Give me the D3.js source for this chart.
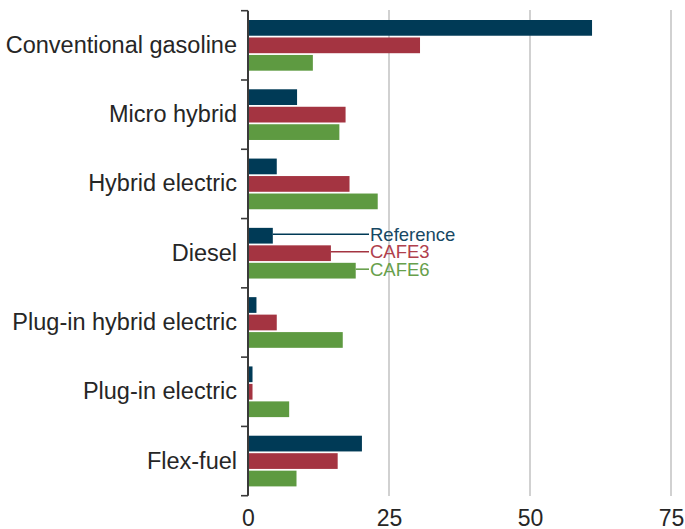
<!DOCTYPE html>
<html>
<head>
<meta charset="utf-8">
<script src="https://cdn.jsdelivr.net/npm/d3@7"></script>
<style>
body { margin: 0; background: #fff; }
svg text { font-family: "Liberation Sans", Arial, sans-serif; }
</style>
</head>
<body>
<svg width="685" height="529"></svg>
<script>
// vehicle types, top to bottom
var categories = ['Conventional gasoline', 'Micro hybrid', 'Hybrid electric', 'Diesel',
  'Plug-in hybrid electric', 'Plug-in electric', 'Flex-fuel']
var seriesNames = ['Reference', 'CAFE3', 'CAFE6']
var reference = [61.0, 8.7, 5.1, 4.4, 1.5, 0.8, 20.2]
var cafe3 = [30.5, 17.3, 18.0, 14.7, 5.1, 0.8, 15.9]
var cafe6 = [11.5, 16.2, 23.0, 19.1, 16.8, 7.3, 8.6]
var xTicks = [0, 25, 50, 75]
var colors = ['#003a56', '#a43441', '#5e9a41']
var labelColors = ['#174863', '#b0404c', '#67a04b']

var series = [reference, cafe3, cafe6]
var svg = d3.select('svg')

var x = d3.scaleLinear().domain([0, 75]).range([248, 671])
var y = d3.scaleBand().domain(categories).range([10.7, 495.7]).padding(0)
var yInner = d3.scaleBand().domain(seriesNames)
  .range([9.3, y.bandwidth() - 9.3]).paddingInner(0.1).paddingOuter(0)

// gridlines
svg.append('g').selectAll('line')
  .data(xTicks.filter(function(d){ return d > 0 }))
  .enter().append('line')
  .attr('x1', function(d){ return x(d) }).attr('x2', function(d){ return x(d) })
  .attr('y1', 10).attr('y2', 496)
  .attr('stroke', '#c6c6c6').attr('stroke-width', 1.6)

// bars
var groups = svg.append('g').selectAll('g')
  .data(categories)
  .enter().append('g')
  .attr('transform', function(d){ return 'translate(0,' + y(d) + ')' })

groups.selectAll('rect')
  .data(function(d, i){
    return seriesNames.map(function(s, j){ return {s: s, j: j, v: series[j][i]} })
  })
  .enter().append('rect')
  .attr('x', x(0))
  .attr('y', function(d){ return yInner(d.s) })
  .attr('width', function(d){ return x(d.v) - x(0) })
  .attr('height', yInner.bandwidth())
  .attr('fill', function(d){ return colors[d.j] })

// y axis labels
var yAxis = svg.append('g')
  .attr('transform', 'translate(' + x(0) + ',0)')
  .call(d3.axisLeft(y).tickSize(0).tickPadding(11))
yAxis.select('.domain').remove()
yAxis.selectAll('text').attr('font-size', 23.5).attr('fill', '#262626')
  .attr('font-family', '"Liberation Sans", Arial, sans-serif')

// axis line and boundary ticks
var bounds = categories.map(function(c){ return y(c) }).concat([y.range()[1]])
svg.append('line')
  .attr('x1', x(0)).attr('x2', x(0))
  .attr('y1', bounds[0]).attr('y2', bounds[bounds.length - 1])
  .attr('stroke', '#3a3a3a').attr('stroke-width', 2)
svg.append('g').selectAll('line')
  .data(bounds)
  .enter().append('line')
  .attr('x1', x(0) - 7).attr('x2', x(0))
  .attr('y1', function(d){ return d }).attr('y2', function(d){ return d })
  .attr('stroke', '#3a3a3a').attr('stroke-width', 1.6)

// x axis labels
var xAxis = svg.append('g')
  .attr('transform', 'translate(0,495.7)')
  .call(d3.axisBottom(x).tickValues(xTicks).tickSize(0).tickPadding(14))
xAxis.select('.domain').remove()
xAxis.selectAll('text').attr('font-size', 23).attr('fill', '#262626')
  .attr('font-family', '"Liberation Sans", Arial, sans-serif')

// direct legend on Diesel bars
var legendCat = 'Diesel'
var li = categories.indexOf(legendCat)
var legend = svg.append('g').attr('transform', 'translate(0,' + (y(legendCat) - 1.5) + ')')
  .selectAll('g')
  .data(seriesNames)
  .enter().append('g')
legend.append('line')
  .attr('x1', function(d, j){ return x(series[j][li]) })
  .attr('x2', 369)
  .attr('y1', function(d){ return yInner(d) + yInner.bandwidth() / 2 })
  .attr('y2', function(d){ return yInner(d) + yInner.bandwidth() / 2 })
  .attr('stroke', function(d, j){ return colors[j] }).attr('stroke-width', 1.5)
legend.append('text')
  .attr('x', 370)
  .attr('y', function(d){ return yInner(d) + yInner.bandwidth() / 2 })
  .attr('dy', '0.36em')
  .attr('font-size', 18.5)
  .attr('fill', function(d, j){ return labelColors[j] })
  .text(function(d){ return d })
</script>
</body>
</html>
